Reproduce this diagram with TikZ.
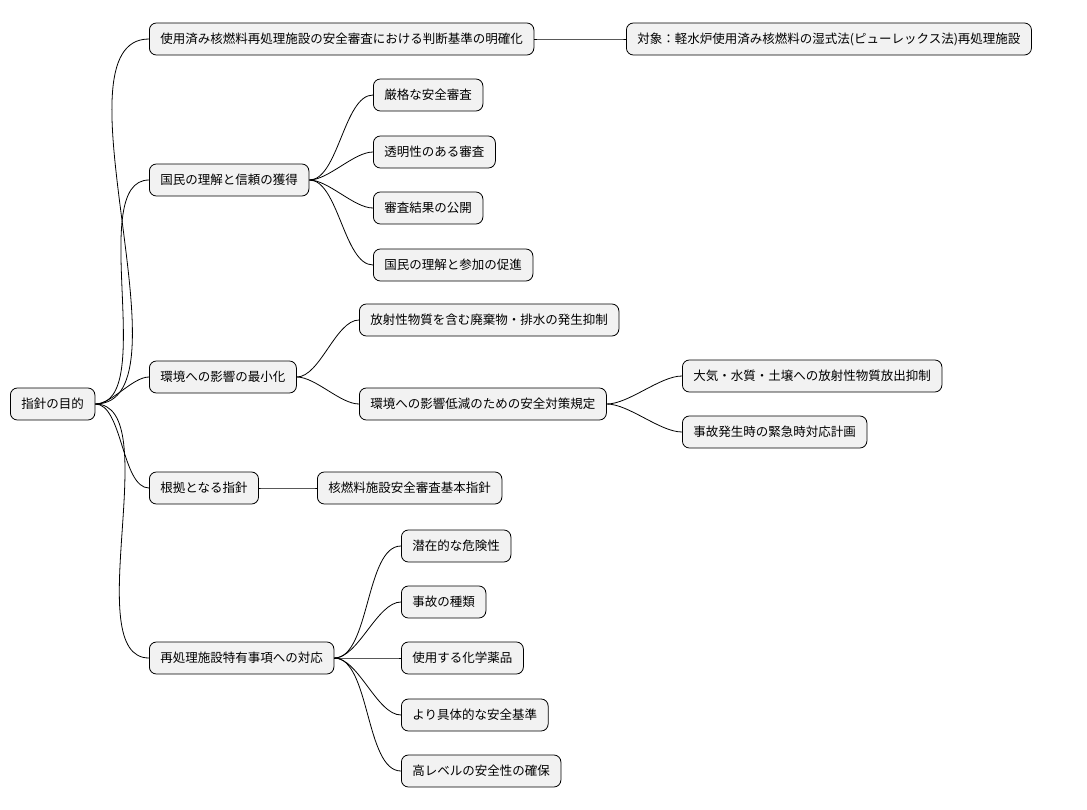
\documentclass[tikz,border=0pt]{standalone}
\usepackage{fontspec}
\setmainfont{Noto Sans CJK JP}
\usepackage{tikz}

\tikzset{
  topic/.style={draw=black, fill=gray!10, rounded corners=7pt, anchor=west,
    font=\fontsize{12.5}{14}\selectfont, inner xsep=11pt, minimum height=32pt, line width=0.8pt},
  link/.style={line width=0.8pt, out=0, in=180, looseness=0.7}
}

\begin{document}
\begin{tikzpicture}[x=1pt, y=-1pt]
        % Canvas
        \useasboundingbox (0,0) rectangle (1087,809);

        % Root
        \node[topic] (goal) at (10,404) {指針の目的};

        % First level
        \node[topic] (clarify) at (149,39) {使用済み核燃料再処理施設の安全審査における判断基準の明確化};
        \node[topic] (trust) at (149,180) {国民の理解と信頼の獲得};
        \node[topic] (env) at (149,377) {環境への影響の最小化};
        \node[topic] (basis) at (149,488) {根拠となる指針};
        \node[topic] (special) at (149,658) {再処理施設特有事項への対応};

        % Second level
        \node[topic] (target) at (626,39) {対象：軽水炉使用済み核燃料の湿式法(ピューレックス法)再処理施設};
        \node[topic] (strict) at (373,95) {厳格な安全審査};
        \node[topic] (open) at (373,152) {透明性のある審査};
        \node[topic] (publish) at (373,208) {審査結果の公開};
        \node[topic] (join) at (373,265) {国民の理解と参加の促進};
        \node[topic] (waste) at (359,320) {放射性物質を含む廃棄物・排水の発生抑制};
        \node[topic] (rules) at (359,404) {環境への影響低減のための安全対策規定};
        \node[topic] (guide) at (317,488) {核燃料施設安全審査基本指針};
        \node[topic] (hazard) at (401,546) {潜在的な危険性};
        \node[topic] (kind) at (401,602) {事故の種類};
        \node[topic] (chem) at (401,658) {使用する化学薬品};
        \node[topic] (std) at (401,715) {より具体的な安全基準};
        \node[topic] (high) at (401,771) {高レベルの安全性の確保};

        % Third level
        \node[topic] (release) at (682,376) {大気・水質・土壌への放射性物質放出抑制};
        \node[topic] (plan) at (682,432) {事故発生時の緊急時対応計画};

        % Branches
        \foreach \p/\c in {goal/clarify, goal/trust, goal/env, goal/basis, goal/special,
            clarify/target, trust/strict, trust/open, trust/publish, trust/join,
            env/waste, env/rules, rules/release, rules/plan, basis/guide,
            special/hazard, special/kind, special/chem, special/std, special/high} {
            \draw[link] (\p.east) to (\c.west);
        }

\end{tikzpicture}
\end{document}
